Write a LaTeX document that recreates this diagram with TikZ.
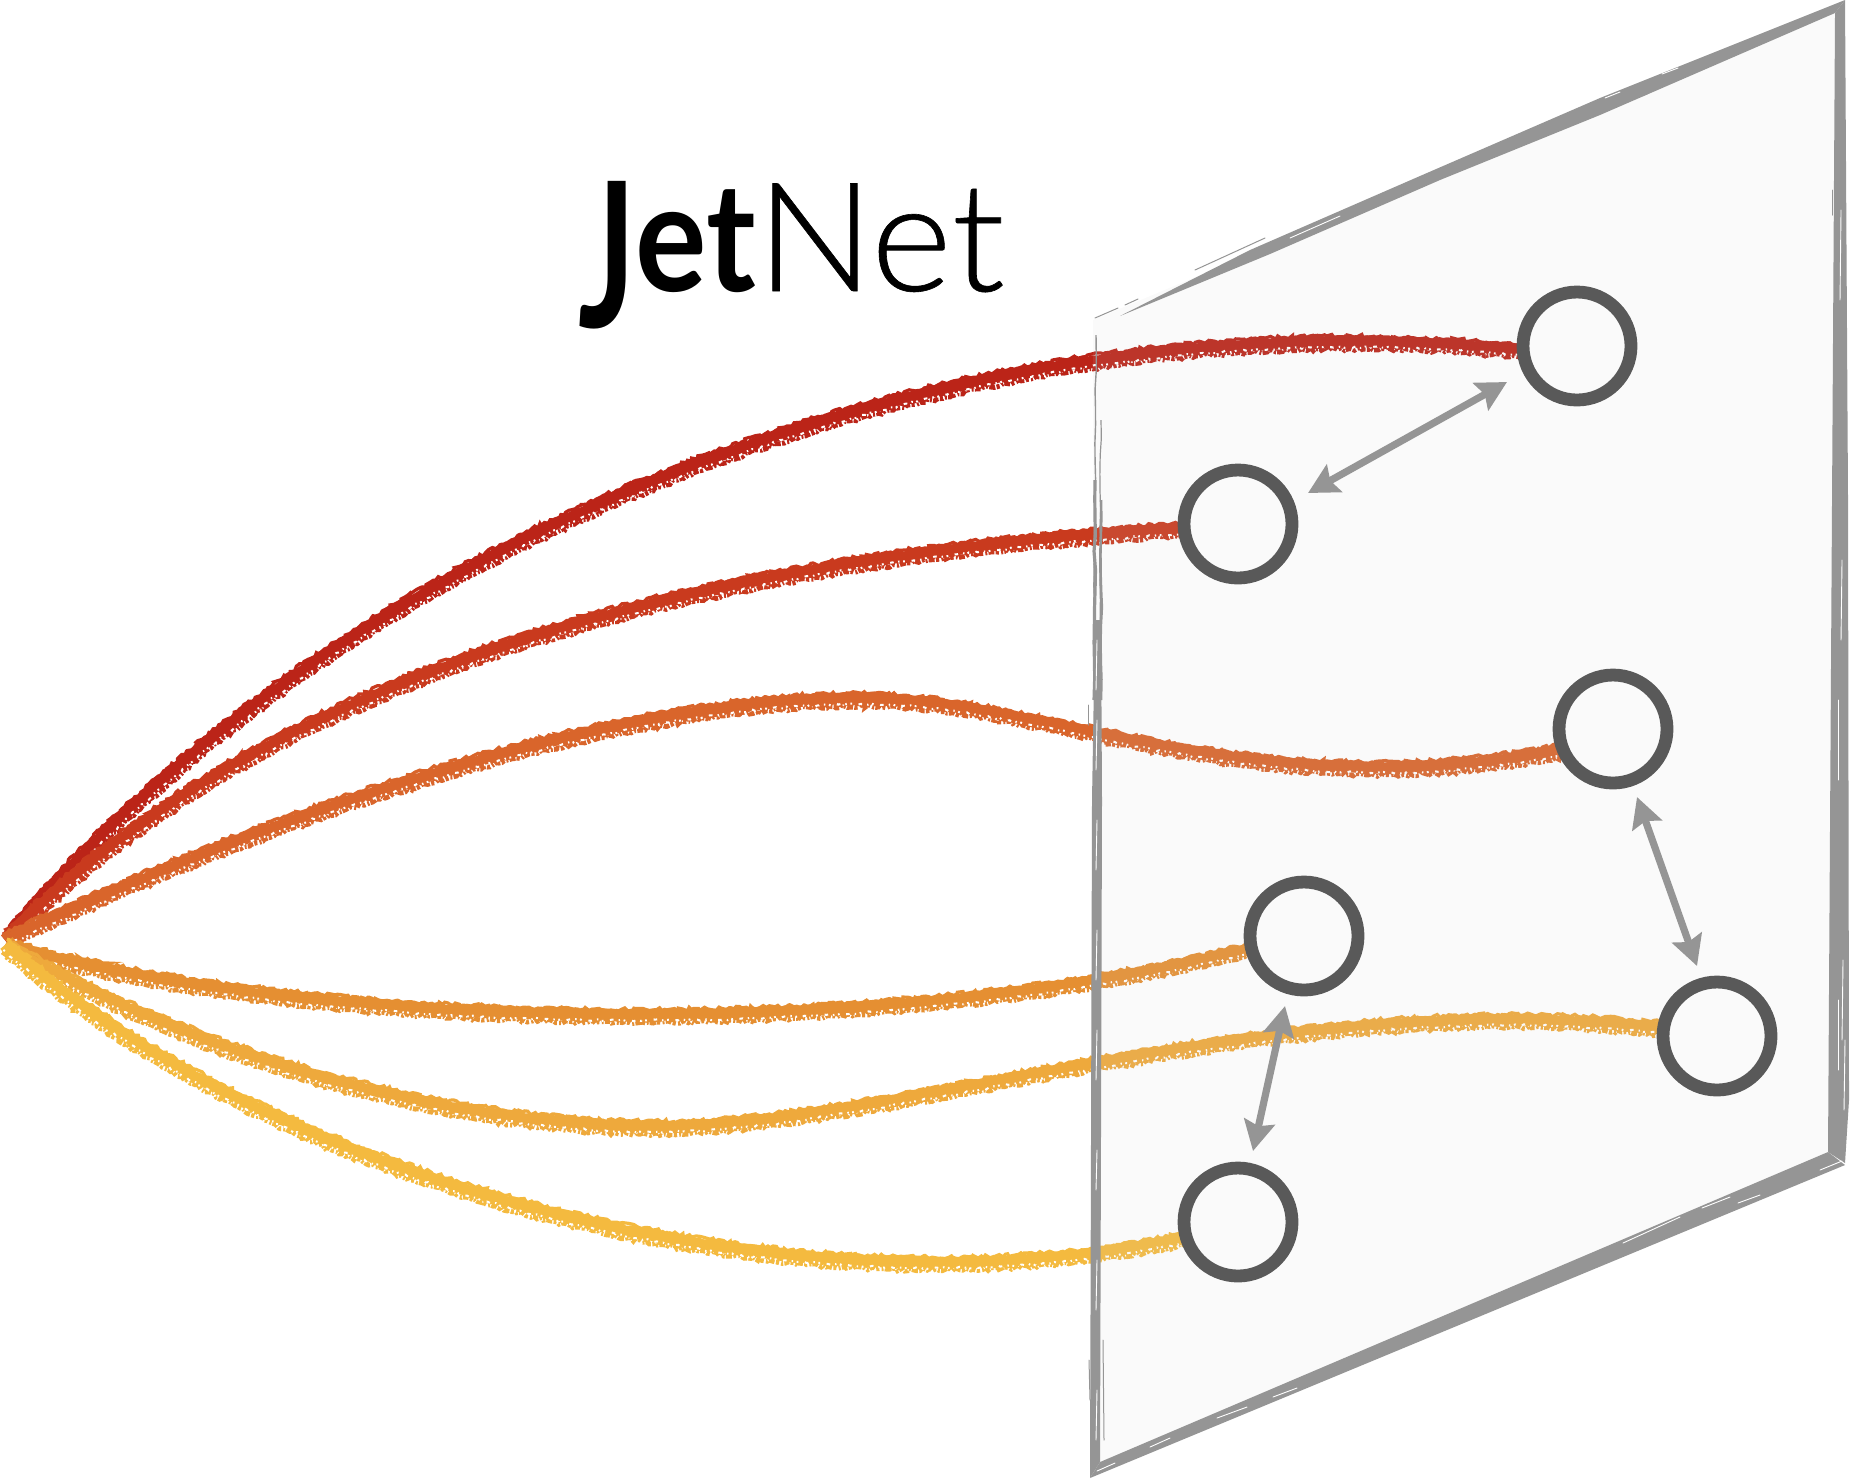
\documentclass[tikz,border=0pt]{standalone}
\usepackage{fontspec}
\usetikzlibrary{arrows.meta,decorations.pathmorphing,calc}
\newfontfamily\jetbold{Lato Bold}
\newfontfamily\jetlight[FakeBold=0.4]{Lato Light}
\definecolor{cA}{HTML}{BB2418}
\definecolor{cB}{HTML}{C93A1E}
\definecolor{cC}{HTML}{D9652B}
\definecolor{cD}{HTML}{E58F32}
\definecolor{cE}{HTML}{EEA93C}
\definecolor{cF}{HTML}{F4BA3F}
\definecolor{edgegray}{HTML}{959595}
\definecolor{ringgray}{HTML}{595959}
\pgfdeclarelayer{curves}
\pgfdeclarelayer{sheet}
\pgfsetlayers{curves,sheet,main}
\tikzset{
  ring/.style={circle,draw=ringgray,line width=6.4pt,minimum size=54pt,inner sep=0pt,outer sep=0pt},
  chalkbase/.style={line width=6pt,decorate,decoration={random steps,segment length=2pt,amplitude=.6pt}},
  chalktop/.style={line width=1.6pt,decorate,decoration={random steps,segment length=1.5pt,amplitude=.9pt}},
  chalkbot/.style={line width=2.4pt,dash pattern=on 3pt off .7pt on 1.6pt off 1.1pt on 1pt off .6pt,decorate,decoration={random steps,segment length=1.5pt,amplitude=.8pt}},
  chalkspeck/.style={white,line width=1pt,dash pattern=on .9pt off 3.4pt on 1.8pt off 2.6pt on .7pt off 1.8pt,decorate,decoration={random steps,segment length=1.5pt,amplitude=.5pt}},
  link/.style={draw=edgegray,line width=3.6pt,{Stealth[length=15pt,width=15.5pt,inset=2.3pt,color=edgegray]}-{Stealth[length=15pt,width=15.5pt,inset=2.3pt,color=edgegray]}},
  wisp/.style={edgegray,decorate,decoration={random steps,segment length=9pt,amplitude=.45pt}},
  streak/.style={white,line width=.45pt,line cap=round},
  hair/.style={edgegray,line width=.5pt,line cap=round},
}
% #1 colour, #2 slant sign (-1 rising lines, 1 falling lines), #3 path
\newcommand{\chalkline}[3]{%
  \draw[chalkbase,#1] #3;
  \draw[chalktop,#1,transform canvas={xshift=#2*1pt,yshift=2.9pt}] #3;
  \draw[chalkbot,#1,transform canvas={xshift=-#2*1.2pt,yshift=-3.5pt}] #3;
  \draw[chalkspeck,transform canvas={xshift=-#2*.8pt,yshift=-2.5pt}] #3;
}
\begin{document}
\begin{tikzpicture}[x=0.5pt,y=-0.5pt]
\pgfmathsetseed{42}
\useasboundingbox (0,0) rectangle (1850,1480);
% circles
\node[ring] (n1) at (1577,346) {};
\node[ring] (n2) at (1238,524) {};
\node[ring] (n3) at (1613,729) {};
\node[ring] (n4) at (1304,936) {};
\node[ring] (n5) at (1717,1036) {};
\node[ring] (n6) at (1238,1222) {};
\coordinate (upper) at (5,940);
\coordinate (lower) at (5,945);
% title
\node[anchor=base west,inner sep=0pt,font=\fontsize{76pt}{76pt}\selectfont] (title) at (578,291)
  {\scalebox{.88}[1]{\jetbold\raisebox{-18.4pt}{\scalebox{1}[1.33]{J}}et}\scalebox{1.02}[1]{\jetlight Net}};
% coloured lines
\begin{pgfonlayer}{curves}
\coordinate (m1) at (678.6,471.5);
\chalkline{cA}{-1}{(upper) .. controls (177.5,735) and (413.75,575) .. (m1) .. controls (943.5,368) and (1237,321) .. (n1.185)}
\coordinate (m2) at (538.6,635.5);
\chalkline{cB}{-1}{(upper) .. controls (147.5,795) and (333.75,698.75) .. (m2) .. controls (743.5,572.25) and (967,542) .. (n2.185)}
\coordinate (m3) at (861,699);
\chalkline{cC}{-1}{(upper) .. controls (350,780) and (650,699) .. (m3) .. controls (1050,699) and (1250,810) .. (n3.203)}
\coordinate (m4) at (572.5,1014.6);
\chalkline{cD}{1}{(lower) .. controls (132.5,983.5) and (343.75,1010.25) .. (m4) .. controls (801.25,1019) and (1047.5,1001) .. (n4.193)}
\coordinate (m5) at (661,1127);
\chalkline{cE}{1}{(lower) .. controls (200,1060) and (450,1127) .. (m5) .. controls (900,1127) and (1280,985) .. (n5.172)}
\coordinate (m6) at (553,1214);
\chalkline{cF}{1}{(lower) .. controls (142,1067) and (341,1161) .. (m6) .. controls (765,1267) and (990,1280) .. (n6.197)}
\end{pgfonlayer}
% sheet
\begin{pgfonlayer}{sheet}
\fill[black!20,fill opacity=.1] (1093,320) -- (1842,6) -- (1840,1160) -- (1095,1470) -- cycle;
% top edge
\fill[edgegray] (1845,0) -- (1600,98) -- (1420,176) -- (1250,250) -- (1120,316) -- (1270,254) -- (1440,180) -- (1600,115) -- (1835,13) -- cycle;
\draw[hair] (1095,318) -- (1118,308);
\draw[hair] (1125,305) -- (1138,299);
\draw[hair] (1195,270) -- (1265,238);
\draw[hair] (1215,272) -- (1290,238);
\draw[hair] (1660,78) -- (1680,70);
\draw[hair] (1630,100) -- (1647,94);
\draw[streak] (1605,98) -- (1620,92);
\draw[streak] (1662,74) -- (1678,68);
\draw[streak] (1290,238) -- (1340,216);
% right edge
\fill[edgegray] (1845,0) -- (1835,13) -- (1828,1152) -- (1845,1163) -- (1849,1100) -- (1848,500) -- cycle;
\draw[streak] (1841,210) -- (1840,300);
\draw[streak] (1843,960) -- (1842,1040);
\draw[streak] (1838,1000) -- (1838,1070);
\draw[streak] (1845,1040) -- (1844,1110);
\draw[streak] (1842,560) -- (1841,640);
\draw[streak] (1838,700) -- (1838,780);
\draw[hair] (1832,190) -- (1832,215);
% bottom edge
\fill[edgegray] (1845,1165) -- (1090,1478) -- (1100,1462) -- (1828,1152) -- cycle;
\draw[streak] (1150,1447) -- (1170,1438);
\draw[streak] (1217,1418) -- (1247,1407);
\draw[streak] (1273,1397) -- (1297,1388);
\draw[streak] (1702,1208) -- (1730,1197);
\draw[streak] (1738,1203) -- (1760,1195);
\draw[streak] (1623,1243) -- (1680,1217);
\draw[streak] (1820,1170) -- (1842,1161);
\draw[streak] (1097,1471) -- (1115,1463);
% left edge
\fill[edgegray] (1095,620) -- (1092,800) -- (1090,1478) -- (1100,1462) -- (1102,800) -- (1101,620) -- cycle;
\draw[wisp,line width=.7pt] (1096,335) -- (1094,640);
\draw[wisp,line width=.6pt] (1101,420) -- (1100,640);
\draw[wisp,line width=1.6pt] (1095,480) -- (1094,700);
\draw[wisp,line width=1.3pt] (1101,500) -- (1101,700);
\draw[hair] (1089,1360) -- (1090,1400);
\draw[hair] (1103,1340) -- (1104,1440);
\draw[hair] (1088,705) -- (1088,725);
\foreach \a/\b in {640/690,720/770,820/870,930/980,1030/1080,1150/1190,1260/1310,1390/1440}{
  \draw[streak] (1097,\a) -- (1096,\b);
}
\end{pgfonlayer}
% arrows between circles
\draw[link] ($(n2)+(70,-31)$) -- ($(n1)+(-70,36)$);
\draw[link] ($(n3)+(24,68)$) -- ($(n5)+(-20,-70)$);
\draw[link] ($(n4)+(-19,70)$) -- ($(n6)+(15,-71)$);
\end{tikzpicture}
\end{document}
